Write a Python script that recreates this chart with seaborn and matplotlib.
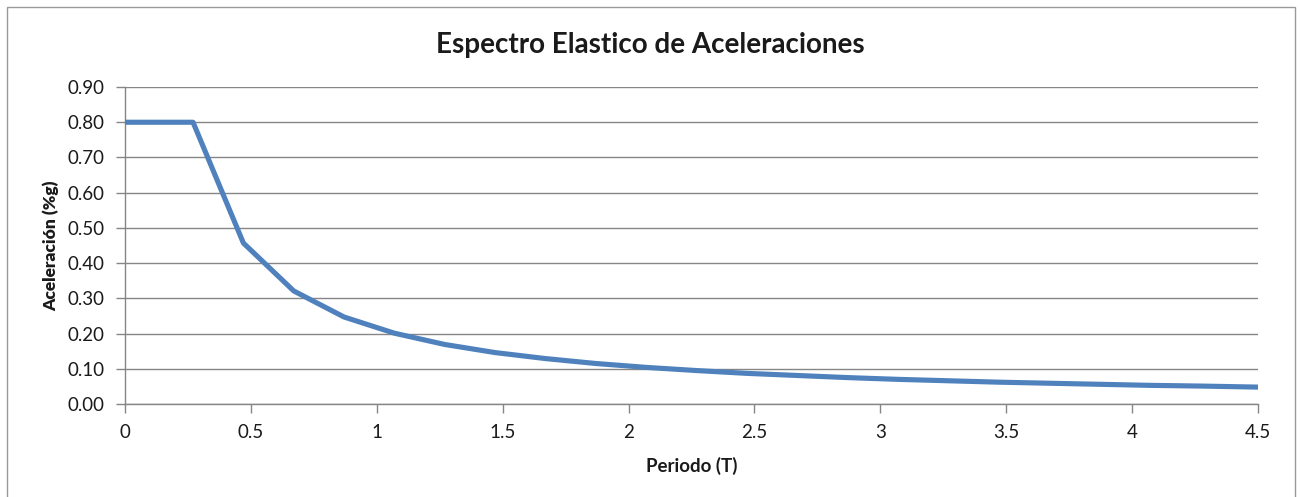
import matplotlib
matplotlib.use("Agg")
import matplotlib.pyplot as plt
import matplotlib.ticker as mticker
from matplotlib.patches import Rectangle
import pandas as pd
import seaborn as sns

# Elastic acceleration spectrum: period T (s) and spectral acceleration (%g)
periodo = [0.00, 0.27, 0.47, 0.67, 0.87, 1.07, 1.27, 1.47, 1.67, 1.87, 2.07,
           2.27, 2.47, 2.67, 2.87, 3.07, 3.27, 3.47, 3.67, 3.87, 4.07, 4.27, 4.50]
aceleracion = [0.800, 0.800, 0.457, 0.321, 0.247, 0.201, 0.169, 0.146, 0.129,
               0.115, 0.104, 0.095, 0.087, 0.081, 0.075, 0.070, 0.066, 0.062,
               0.059, 0.056, 0.053, 0.051, 0.048]

x_ticks = [0, 0.5, 1, 1.5, 2, 2.5, 3, 3.5, 4, 4.5]
y_ticks = [0.00, 0.10, 0.20, 0.30, 0.40, 0.50, 0.60, 0.70, 0.80, 0.90]

titulo = "Espectro Elastico de Aceleraciones"
etiqueta_x = "Periodo (T)"
etiqueta_y = "Aceleración (%g)"

df = pd.DataFrame({"T": periodo, "Sa": aceleracion})

sns.set_theme(style="white")
plt.rcParams["font.family"] = ["Lato", "DejaVu Sans"]

AXIS_GREY = "#868686"
TEXT = "#1a1a1a"

fig = plt.figure(figsize=(13.0, 4.97), dpi=100)
ax = fig.add_axes([0.0962, 0.1871, 0.8715, 0.6378])

sns.lineplot(data=df, x="T", y="Sa", ax=ax, color="#4F81BD", linewidth=3.7,
             sort=False, solid_joinstyle="round", solid_capstyle="butt", zorder=3)

ax.set_xlim(0, 4.5)
ax.set_ylim(0, 0.90)
ax.set_xticks(x_ticks)
ax.set_yticks(y_ticks)
ax.xaxis.set_major_formatter(mticker.FuncFormatter(lambda v, p: f"{v:g}"))
ax.yaxis.set_major_formatter(mticker.FuncFormatter(lambda v, p: f"{v:.2f}"))

# horizontal gridlines only, Excel-style
ax.yaxis.grid(True, color=AXIS_GREY, linewidth=1.0)
ax.xaxis.grid(False)
ax.set_axisbelow(True)

for side in ("top", "right"):
    ax.spines[side].set_visible(False)
for side in ("left", "bottom"):
    ax.spines[side].set_color(AXIS_GREY)
    ax.spines[side].set_linewidth(1.0)

ax.tick_params(axis="both", which="major", direction="out", length=6.5, width=1.0,
               color=AXIS_GREY, labelcolor=TEXT, labelsize=13.5)
ax.tick_params(axis="y", pad=8, left=True)
ax.tick_params(axis="x", pad=8, bottom=True)

ax.set_xlabel(etiqueta_x, fontsize=13.5, fontweight="bold", color=TEXT, labelpad=11)
ax.set_ylabel(etiqueta_y, fontsize=12.5, fontweight="heavy", color=TEXT, labelpad=6)
fig.text(0.5, 0.91, titulo, ha="center", va="center", fontsize=20,
         fontweight="bold", color=TEXT)

# chart-area frame
fig.patches.append(Rectangle((7 / 1300, -0.05), (1295 - 7) / 1300, 1.05 - 7 / 497,
                             transform=fig.transFigure, fill=False,
                             edgecolor="#9a9a9a", linewidth=1.0))

fig.savefig("out.png", dpi=100, facecolor="white")
